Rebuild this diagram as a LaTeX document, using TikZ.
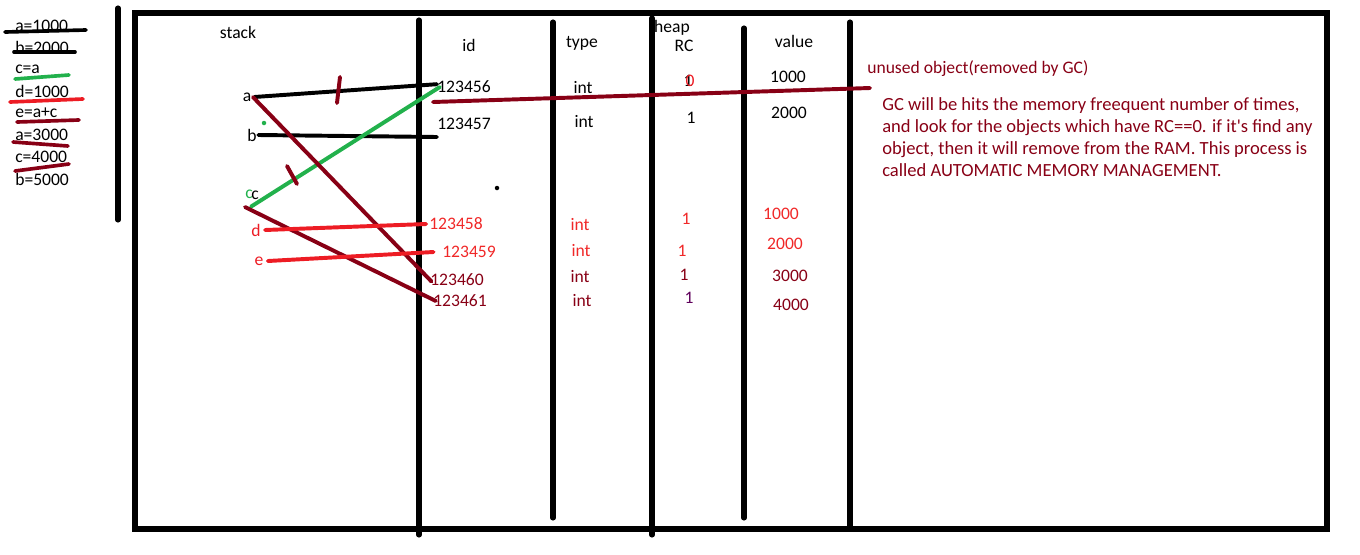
\documentclass[tikz,border=0pt]{standalone}
\usepackage{fontspec}
\setmainfont{Carlito}
\usetikzlibrary{positioning}
\definecolor{maroon}{HTML}{880015}
\definecolor{pred}{HTML}{ED1C24}
\definecolor{pgreen}{HTML}{22B14C}
\definecolor{tred}{HTML}{F02828}
\tikzset{
  lbl/.style={inner sep=0pt, anchor=center, font=\fontsize{12.5}{14}\selectfont},
  note/.style={inner sep=0pt, anchor=west, align=left, text=maroon,
               font=\fontsize{13.2}{15.6}\selectfont},
  wall/.style={line width=3.6pt, line cap=round},
  pen/.style={line width=2.8pt, line cap=round},
  strike/.style={line width=2.6pt, line cap=round}}
\begin{document}
\begin{tikzpicture}[x=0.025cm, y=-0.025cm]
  \useasboundingbox (0,0) rectangle (1360,554);
  % frame and columns
  \coordinate (tl) at (135,13);
  \coordinate (br) at (1327,529);
  \draw[wall] (tl) rectangle (br);
  \draw[wall] (118,8) -- (118,220);
  \draw[wall] (419,20) -- (419,535);
  \draw[wall] (553,22) -- (553,518);
  \draw[wall] (652,18) -- (652,535);
  \draw[wall] (744,28) -- (744,518);
  \draw[wall] (850,22) -- (850,528);

  % code on the left
  \node[lbl, anchor=west] (l1) at (15,26)  {a=1000};
  \node[lbl, anchor=west] (l2) at (15,47)  {b=2000};
  \node[lbl, anchor=west] (l3) at (15,69)  {c=a};
  \node[lbl, anchor=west] (l4) at (15,91)  {d=1000};
  \node[lbl, anchor=west] (l5) at (15,113) {e=a+c};
  \node[lbl, anchor=west] (l6) at (15,135) {a=3000};
  \node[lbl, anchor=west] (l7) at (15,157) {c=4000};
  \node[lbl, anchor=west] (l8) at (15,179) {b=5000};
  \draw[strike] (5,32) -- (86,30);
  \draw[strike] (14,52) -- (75,52);
  \draw[strike, pgreen] (15,79) -- (69,75);
  \draw[strike, pred] (10,102) -- (83,99);
  \draw[strike, maroon] (17,122) -- (79,120);
  \draw[strike, maroon] (13,142) -- (68,146);
  \draw[strike, maroon] (15,171) -- (69,164);

  % headers
  \node[lbl] (hstack) at (238,32) {stack};
  \node[lbl] (hid) at (469,45) {id};
  \node[lbl] (htype) at (582,43) {type};
  \node[lbl] (hheap) at (672,28) {heap};
  \node[lbl] (hrc) at (684,46) {RC};
  \node[lbl] (hval) at (794,41) {value};

  % stack variables
  \node[lbl] (va) at (247,97) {a};
  \node[lbl] (vb) at (252,135) {b};
  \node[lbl, pgreen] (vc) at (249,194) {c};
  \node[lbl] (vc2) at (255,195) {c};
  \node[lbl, pred] (vd) at (256,230) {d};
  \node[lbl, pred] (ve) at (259,261) {e};

  % heap rows
  \node[lbl] (id1) at (464,87) {123456};
  \node[lbl] (t1) at (583,88) {int};
  \node[lbl] (rc1) at (688,81) {1};
  \node[lbl, pred] (rc1b) at (690,81) {0};
  \node[lbl] (v1) at (788,77) {1000};
  \node[lbl] (id2) at (464,124) {123457};
  \node[lbl] (t2) at (584,122) {int};
  \node[lbl] (rc2) at (691,118) {1};
  \node[lbl] (v2) at (789,113) {2000};
  \node[lbl, tred] (id3) at (456,224) {123458};
  \node[lbl, tred] (t3) at (580,225) {int};
  \node[lbl, tred] (rc3) at (686,219) {1};
  \node[lbl, tred] (v3) at (781,214) {1000};
  \node[lbl, tred] (id4) at (469,252) {123459};
  \node[lbl, tred] (t4) at (581,251) {int};
  \node[lbl, tred] (rc4) at (682,251) {1};
  \node[lbl, tred] (v4) at (785,244) {2000};
  \node[lbl, maroon] (id5) at (457,280) {123460};
  \node[lbl, maroon] (t5) at (580,277) {int};
  \node[lbl, maroon] (rc5) at (684,275) {1};
  \node[lbl, maroon] (v5) at (790,276) {3000};
  \node[lbl, maroon] (id6) at (460,301) {123461};
  \node[lbl, maroon] (t6) at (582,301) {int};
  \node[lbl, maroon!70!blue] (rc6) at (689,298) {1};
  \node[lbl, maroon] (v6) at (791,305) {4000};

  % references
  \draw[pen] ([xshift=2pt]va.east) -- ([yshift=2pt]id1.west);
  \draw[pen] ([xshift=1pt]vb.east) -- (437,137);
  \draw[pen, pgreen] ([yshift=-5pt]vc2.south west) -- ([xshift=2pt]id1.west);
  \draw[pen, maroon] ([xshift=1pt]va.east) -- ([xshift=1pt,yshift=-1pt]id5.west);
  \draw[pen, maroon] ([yshift=-6pt]vc.south west) -- ([xshift=2pt]id6.west);
  \draw[pen, pred] ([xshift=3pt]vd.east) -- ([xshift=-2pt]id3.west);
  \draw[pen, pred] ([xshift=3pt]ve.east) -- ([xshift=-6pt]id4.west);
  \draw[pen, maroon] (340,77) -- (337,103);
  \draw[pen, maroon] (287,166) -- (297,184);
  \fill[pgreen] (264,123) circle (1.6pt);
  \fill (497,188) circle (1.6pt);

  % garbage collected object
  \node[lbl, anchor=west, text=maroon] (unused) at (867,69) {unused object(removed by GC)};
  \draw[pen, maroon] (433,102) -- (870,88);
  \node[note] (gcnote) at (882,137)
    {GC will be hits the memory freequent number of times,\\
     and look for the objects which have RC==0. if it\textquotesingle s find any\\
     object, then it will remove from the RAM. This process is\\
     called AUTOMATIC MEMORY MANAGEMENT.};
\end{tikzpicture}
\end{document}
